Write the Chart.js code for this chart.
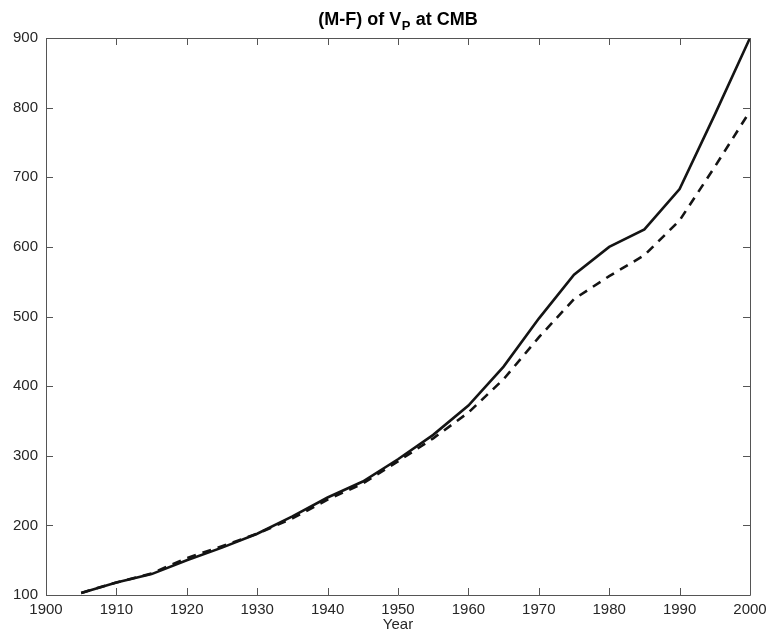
<!DOCTYPE html>
<html>
<head>
<meta charset="utf-8">
<script src="https://cdn.jsdelivr.net/npm/chart.js@4.4.1/dist/chart.umd.min.js"></script>
<style>
html,body{margin:0;padding:0;background:#fff;}
#wrap{width:767px;height:634px;position:relative;}
</style>
</head>
<body>
<div id="wrap"><canvas id="c" width="767" height="634"></canvas></div>
<script>
const years = [1905,1910,1915,1920,1925,1930,1935,1940,1945,1950,1955,1960,1965,1970,1975,1980,1985,1990,1995,2000];
const solidValues = [103,118,130,150,168,188,213,240,263,295,330,372,428,497,560,600,625,683,790,900];
const dashedValues = [103,118,131,153,170,188,210,237,260,292,325,362,410,470,525,558,588,638,715,795];
const xTicks = [1900,1910,1920,1930,1940,1950,1960,1970,1980,1990,2000];
const yTicks = [100,200,300,400,500,600,700,800,900];
const titleMain = "(M-F) of V";
const titleSub = "P";
const titleRest = " at CMB";
const xTitle = "Year";

const FONT = "'Liberation Sans', Arial, Helvetica, sans-serif";
const TXT = '#262626';

const boxPlugin = {
  id: 'boxPlugin',
  afterDraw(chart) {
    const ctx = chart.ctx;
    const a = chart.chartArea;
    const xs = chart.scales.x, ys = chart.scales.y;
    ctx.save();
    ctx.strokeStyle = '#555555';
    ctx.lineWidth = 1;
    ctx.beginPath();
    ctx.rect(Math.round(a.left)+0.5, Math.round(a.top)+0.5, Math.round(a.right-a.left), Math.round(a.bottom-a.top));
    ctx.stroke();
    const L = 7;
    ctx.beginPath();
    xTicks.forEach(v => {
      const px = Math.round(xs.getPixelForValue(v))+0.5;
      ctx.moveTo(px, a.bottom); ctx.lineTo(px, a.bottom - L);
      ctx.moveTo(px, a.top); ctx.lineTo(px, a.top + L);
    });
    yTicks.forEach(v => {
      const py = Math.round(ys.getPixelForValue(v))+0.5;
      ctx.moveTo(a.left, py); ctx.lineTo(a.left + L, py);
      ctx.moveTo(a.right, py); ctx.lineTo(a.right - L, py);
    });
    ctx.stroke();
    // title with subscript
    ctx.fillStyle = '#000';
    ctx.textBaseline = 'alphabetic';
    const big = "bold 18px " + FONT, small = "bold 13px " + FONT;
    ctx.font = big; const w1 = ctx.measureText(titleMain).width;
    const w3 = ctx.measureText(titleRest).width;
    ctx.font = small; const w2 = ctx.measureText(titleSub).width + 1;
    const total = w1 + w2 + w3;
    let x0 = (a.left + a.right)/2 - total/2;
    const base = 25;
    ctx.textAlign = 'left';
    ctx.font = big; ctx.fillText(titleMain, x0, base);
    ctx.font = small; ctx.fillText(titleSub, x0 + w1 + 0.5, base + 5);
    ctx.font = big; ctx.fillText(titleRest, x0 + w1 + w2, base);
    ctx.restore();
  }
};

new Chart(document.getElementById('c'), {
  type: 'line',
  data: {
    datasets: [
      {
        data: years.map((y,i)=>({x:y, y:solidValues[i]})),
        borderColor: '#141414', borderWidth: 2.6, pointRadius: 0, tension: 0, fill: false
      },
      {
        data: years.map((y,i)=>({x:y, y:dashedValues[i]})),
        borderColor: '#141414', borderWidth: 2.6, pointRadius: 0, tension: 0, fill: false,
        borderDash: [9,7]
      }
    ]
  },
  options: {
    responsive: false,
    animation: false,
    devicePixelRatio: 1,
    layout: { padding: { left: 0, right: 17, top: 38, bottom: 0 } },
    plugins: { legend: { display: false }, tooltip: { enabled: false }, title: { display: false } },
    scales: {
      x: {
        type: 'linear', min: 1900, max: 2000,
        afterBuildTicks(s){ s.ticks = xTicks.map(v=>({value:v})); },
        afterFit(s){ s.height = 39; s.paddingLeft = 0; s.paddingRight = 0; },
        grid: { display: false, drawTicks: false },
        border: { display: false },
        ticks: { color: TXT, font: { family: FONT, size: 15 }, padding: 6, maxRotation: 0, autoSkip: false,
                 callback: v => String(v) },
        title: { display: true, text: xTitle, color: TXT, font: { family: FONT, size: 15 }, padding: { top: 0, bottom: 0 } }
      },
      y: {
        type: 'linear', min: 100, max: 900,
        afterBuildTicks(s){ s.ticks = yTicks.map(v=>({value:v})); },
        afterFit(s){ s.width = 46; s.paddingTop = 0; s.paddingBottom = 0; },
        grid: { display: false, drawTicks: false },
        border: { display: false },
        ticks: { color: TXT, font: { family: FONT, size: 15 }, padding: 8, autoSkip: false }
      }
    }
  },
  plugins: [boxPlugin]
});
</script>
</body>
</html>
